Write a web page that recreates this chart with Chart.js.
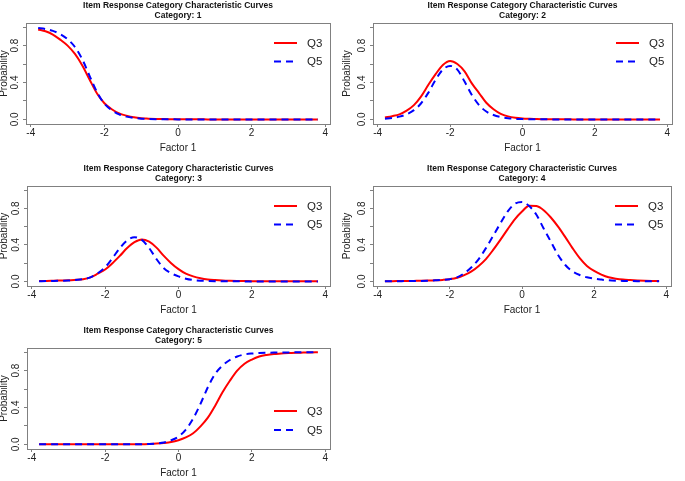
<!DOCTYPE html>
<html>
<head>
<meta charset="utf-8">
<script src="https://cdn.jsdelivr.net/npm/chart.js@4.4.0/dist/chart.umd.min.js"></script>
<style>
  body { margin: 0; background: #fff; }
  #wrap { position: relative; width: 685px; height: 481px; overflow: hidden; }
  canvas { position: absolute; }
</style>
</head>
<body>
<div id="wrap"></div>
<script>
// Factor 1 grid shared by every curve
const factorValues = [-3.8, -3.6, -3.4, -3.2, -3.0, -2.8, -2.6, -2.4, -2.2, -2.0, -1.8, -1.6, -1.4, -1.2, -1.0,
  -0.8, -0.6, -0.4, -0.2, 0.0, 0.2, 0.4, 0.6, 0.8, 1.0, 1.2, 1.4, 1.6, 1.8, 2.0, 2.2, 2.4, 2.6, 2.8,
  3.0, 3.2, 3.4, 3.6, 3.8];

const categories = ['1', '2', '3', '4', '5'];
const seriesNames = ['Q3', 'Q5'];

// Category 1
const q3Cat1 = [0.975, 0.955, 0.92, 0.865, 0.80, 0.71, 0.585, 0.43, 0.28, 0.175, 0.11, 0.065, 0.04, 0.022, 0.012,
  0.008, 0.005, 0.003, 0.002, 0.001, 0.001, 0.001, 0.001, 0, 0, 0, 0, 0, 0, 0, 0, 0, 0, 0, 0, 0, 0, 0, 0];
const q5Cat1 = [0.99, 0.98, 0.96, 0.925, 0.87, 0.785, 0.65, 0.47, 0.295, 0.17, 0.10, 0.055, 0.03, 0.016, 0.008,
  0.004, 0.002, 0.001, 0.001, 0, 0, 0, 0, 0, 0, 0, 0, 0, 0, 0, 0, 0, 0, 0, 0, 0, 0, 0, 0];
// Category 2
const q3Cat2 = [0.02, 0.035, 0.055, 0.095, 0.155, 0.25, 0.375, 0.49, 0.59, 0.633, 0.60, 0.52, 0.39, 0.285, 0.18,
  0.11, 0.06, 0.033, 0.018, 0.01, 0.006, 0.003, 0.002, 0.001, 0.001, 0.001, 0, 0, 0, 0, 0, 0, 0, 0, 0, 0, 0, 0, 0];
const q5Cat2 = [0.008, 0.015, 0.03, 0.055, 0.10, 0.175, 0.29, 0.43, 0.54, 0.58, 0.54, 0.41, 0.265, 0.155, 0.085,
  0.047, 0.025, 0.013, 0.006, 0.003, 0.002, 0.001, 0.001, 0, 0, 0, 0, 0, 0, 0, 0, 0, 0, 0, 0, 0, 0, 0, 0];
// Category 3
const q3Cat3 = [0.005, 0.006, 0.008, 0.01, 0.012, 0.018, 0.025, 0.045, 0.085, 0.13, 0.2, 0.28, 0.365, 0.43, 0.46,
  0.435, 0.37, 0.28, 0.2, 0.135, 0.085, 0.055, 0.035, 0.022, 0.015, 0.01, 0.007, 0.005, 0.004, 0.003,
  0.002, 0.002, 0.001, 0.001, 0.001, 0.001, 0.001, 0.001, 0.001];
const q5Cat3 = [0.003, 0.004, 0.006, 0.008, 0.01, 0.016, 0.025, 0.045, 0.09, 0.155, 0.255, 0.365, 0.45, 0.485, 0.455,
  0.365, 0.245, 0.145, 0.09, 0.055, 0.03, 0.015, 0.008, 0.005, 0.003, 0.002, 0.001, 0.001, 0, 0, 0, 0, 0, 0, 0, 0, 0, 0, 0];
// Category 4
const q3Cat4 = [0.003, 0.003, 0.004, 0.005, 0.006, 0.007, 0.009, 0.012, 0.017, 0.025, 0.04, 0.07, 0.11, 0.17, 0.245,
  0.345, 0.455, 0.57, 0.68, 0.765, 0.83, 0.825, 0.78, 0.70, 0.60, 0.485, 0.365, 0.255, 0.17, 0.115,
  0.075, 0.045, 0.03, 0.02, 0.015, 0.011, 0.008, 0.006, 0.005];
const q5Cat4 = [0.002, 0.002, 0.003, 0.004, 0.005, 0.006, 0.008, 0.012, 0.017, 0.025, 0.045, 0.09, 0.155, 0.245, 0.365,
  0.50, 0.635, 0.765, 0.85, 0.87, 0.825, 0.73, 0.58, 0.435, 0.29, 0.18, 0.11, 0.07, 0.045, 0.03,
  0.02, 0.012, 0.008, 0.006, 0.004, 0.003, 0.002, 0.001, 0.001];
// Category 5
const q3Cat5 = [0.001, 0.001, 0.001, 0.001, 0.001, 0.001, 0.001, 0.001, 0.001, 0.001, 0.001, 0.001, 0.001, 0.001, 0.002,
  0.005, 0.009, 0.015, 0.025, 0.045, 0.075, 0.12, 0.195, 0.29, 0.42, 0.565, 0.69, 0.80, 0.875, 0.92,
  0.953, 0.97, 0.98, 0.985, 0.99, 0.993, 0.995, 0.997, 0.998];
const q5Cat5 = [0.001, 0.001, 0.001, 0.001, 0.001, 0.001, 0.001, 0.001, 0.001, 0.001, 0.001, 0.001, 0.001, 0.001, 0.002,
  0.005, 0.01, 0.02, 0.045, 0.085, 0.16, 0.28, 0.44, 0.62, 0.765, 0.855, 0.915, 0.953, 0.975, 0.985,
  0.99, 0.993, 0.995, 0.996, 0.997, 0.998, 0.998, 0.999, 0.999];

const q3Series = [q3Cat1, q3Cat2, q3Cat3, q3Cat4, q3Cat5];
const q5Series = [q5Cat1, q5Cat2, q5Cat3, q5Cat4, q5Cat5];

const xTicks = [-4, -2, 0, 2, 4];
const yTicks = [0, 0.2, 0.4, 0.6, 0.8, 1.0];
const yLabeled = [0, 0.4, 0.8];

const FONT = "'Liberation Sans', Arial, sans-serif";

// canvas cell and plot box (relative to the cell) of each panel
const panels = [
  { left: 0, top: 0, w: 342, h: 161, box: { l: 26, r: 330, t: 23, b: 124 }, legend: 'top', ytitle: -1 },
  { left: 342, top: 0, w: 343, h: 161, box: { l: 31, r: 330, t: 23, b: 124 }, legend: 'top', ytitle: 0 },
  { left: 0, top: 161, w: 342, h: 161, box: { l: 27, r: 330, t: 25, b: 125 }, legend: 'top', ytitle: -1 },
  { left: 342, top: 161, w: 343, h: 161, box: { l: 31, r: 329, t: 25, b: 125 }, legend: 'top', ytitle: 0 },
  { left: 0, top: 322, w: 342, h: 159, box: { l: 27, r: 330, t: 26, b: 127 }, legend: 'bottom', ytitle: -1 }
];

function toPoints(values) {
  return factorValues.map((x, i) => ({ x: x, y: values[i] }));
}

// box around plot, two-line title and the legend inside the plot
const framePlugin = {
  id: 'frame',
  afterDraw(chart, args, opts) {
    const { ctx, chartArea: a } = chart;
    ctx.save();
    ctx.strokeStyle = '#808080';
    ctx.lineWidth = 1;
    ctx.strokeRect(Math.round(a.left) + 0.5, Math.round(a.top) + 0.5,
      Math.round(a.right - a.left), Math.round(a.bottom - a.top));

    ctx.fillStyle = '#111';
    ctx.font = 'bold 8.5px ' + FONT;
    ctx.textAlign = 'center';
    ctx.textBaseline = 'middle';
    const cx = (a.left + a.right) / 2;
    ctx.fillText('Item Response Category Characteristic Curves', cx, a.top - 17.5);
    ctx.fillText('Category: ' + opts.category, cx, a.top - 7.5);

    const rows = opts.legendAt === 'bottom' ? [a.bottom - 38, a.bottom - 19] : [a.top + 20, a.top + 38.5];
    ctx.font = '11.5px ' + FONT;
    ctx.textAlign = 'left';
    chart.data.datasets.forEach((ds, i) => {
      const y = rows[i];
      ctx.strokeStyle = ds.borderColor;
      ctx.lineWidth = 2;
      ctx.setLineDash(ds.borderDash || []);
      ctx.beginPath();
      ctx.moveTo(a.right - 56, y);
      ctx.lineTo(a.right - 33, y);
      ctx.stroke();
      ctx.setLineDash([]);
      ctx.fillStyle = '#222';
      ctx.fillText(ds.label, a.right - 23, y + 0.5);
    });
    ctx.restore();
  }
};

const wrap = document.getElementById('wrap');

panels.forEach((p, k) => {
  const canvas = document.createElement('canvas');
  canvas.width = p.w;
  canvas.height = p.h;
  canvas.style.left = p.left + 'px';
  canvas.style.top = p.top + 'px';
  canvas.style.width = p.w + 'px';
  canvas.style.height = p.h + 'px';
  wrap.appendChild(canvas);

  new Chart(canvas, {
    type: 'line',
    data: {
      datasets: [{
        label: seriesNames[0],
        data: toPoints(q3Series[k]),
        borderColor: '#ff0000',
        borderWidth: 2,
        pointRadius: 0,
        cubicInterpolationMode: 'monotone',
        order: 1
      }, {
        label: seriesNames[1],
        data: toPoints(q5Series[k]),
        borderColor: '#0000ff',
        borderWidth: 2,
        borderDash: [7, 5],
        pointRadius: 0,
        cubicInterpolationMode: 'monotone',
        order: 0
      }]
    },
    options: {
      responsive: false,
      animation: false,
      devicePixelRatio: 1,
      layout: { padding: { left: 0, top: p.box.t, right: p.w - p.box.r, bottom: 0 } },
      plugins: {
        legend: { display: false },
        tooltip: { enabled: false },
        frame: { category: categories[k], legendAt: p.legend }
      },
      scales: {
        x: {
          type: 'linear',
          min: -4.13,
          max: 4.13,
          afterBuildTicks: s => { s.ticks = xTicks.map(v => ({ value: v })); },
          afterFit: s => { s.height = p.h - p.box.b; },
          grid: { drawOnChartArea: false, tickLength: 3, color: '#808080' },
          border: { display: false },
          ticks: {
            font: { family: FONT, size: 10 },
            color: '#222',
            padding: 0,
            maxRotation: 0,
            autoSkip: false,
            callback: v => String(v)
          },
          title: {
            display: true,
            text: 'Factor 1',
            font: { family: FONT, size: 10, lineHeight: 1.2 },
            color: '#222',
            padding: { top: 0, bottom: p.h - p.box.b - 30 }
          }
        },
        y: {
          min: -0.05,
          max: 1.045,
          afterBuildTicks: s => { s.ticks = yTicks.map(v => ({ value: v })); },
          afterFit: s => { s.width = p.box.l; },
          grid: { drawOnChartArea: false, tickLength: 3, color: '#808080' },
          border: { display: false },
          ticks: {
            font: { family: FONT, size: 10 },
            color: '#222',
            padding: 1,
            minRotation: 90,
            maxRotation: 90,
            crossAlign: 'center',
            autoSkip: false,
            callback: v => yLabeled.includes(v) ? v.toFixed(1) : ''
          },
          title: {
            display: true,
            text: 'Probability',
            font: { family: FONT, size: 10, lineHeight: 1 },
            color: '#222',
            padding: { top: p.ytitle, bottom: 0 }
          }
        }
      }
    },
    plugins: [framePlugin]
  });
});
</script>
</body>
</html>
